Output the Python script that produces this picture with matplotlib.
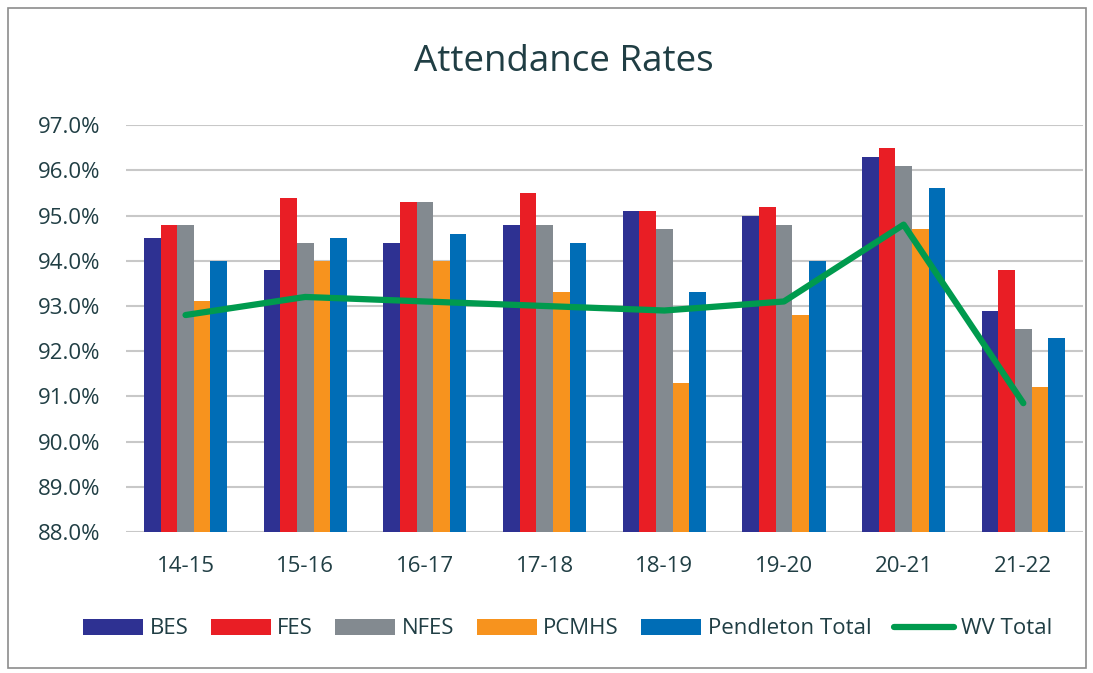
import numpy as np
import matplotlib.pyplot as plt
from matplotlib.patches import Rectangle
from matplotlib.ticker import FuncFormatter

years = ["14-15", "15-16", "16-17", "17-18", "18-19", "19-20", "20-21", "21-22"]
bes = [94.5, 93.8, 94.4, 94.8, 95.1, 95.0, 96.3, 92.9]
fes = [94.8, 95.4, 95.3, 95.5, 95.1, 95.2, 96.5, 93.8]
nfes = [94.8, 94.4, 95.3, 94.8, 94.7, 94.8, 96.1, 92.5]
pcmhs = [93.1, 94.0, 94.0, 93.3, 91.3, 92.8, 94.7, 91.2]
pendleton = [94.0, 94.5, 94.6, 94.4, 93.3, 94.0, 95.6, 92.3]
wv_total = [92.8, 93.2, 93.1, 93.0, 92.9, 93.1, 94.8, 90.85]

series = [("BES", bes, "#2E3192"), ("FES", fes, "#E91E25"),
          ("NFES", nfes, "#838A90"), ("PCMHS", pcmhs, "#F7931E"),
          ("Pendleton Total", pendleton, "#006DB6")]

txt = "#203E44"
plt.rcParams['font.family'] = ['Open Sans', 'DejaVu Sans']

fig = plt.figure(figsize=(10.93, 6.73), dpi=100)
ax = fig.add_axes([0.115, 0.2095, 0.876, 0.6045])

x = np.arange(len(years))
w = 0.139
base = 88.0
handles = []
for i, (name, vals, col) in enumerate(series):
    b = ax.bar(x + (i - 2) * w, np.array(vals) - base, w, bottom=base,
               color=col, label=name, zorder=2)
    handles.append(b)
ln, = ax.plot(x, wv_total, color="#009A4E", lw=4.5, solid_capstyle="round",
              label="WV Total", zorder=3)
handles.append(ln)

ax.set_ylim(88, 97)
ax.set_xlim(-0.5, len(years) - 0.5)
ax.set_yticks(np.arange(88, 97.1, 1))
ax.yaxis.set_major_formatter(FuncFormatter(lambda v, p: f"{v:.1f}%"))
ax.set_xticks(x)
ax.set_xticklabels(years)
ax.tick_params(length=0, labelsize=16, colors=txt)
ax.tick_params(axis='y', pad=18)
ax.tick_params(axis='x', pad=17)
ax.grid(axis='y', color="#C8C8C8", lw=1.5, zorder=0)
ax.set_axisbelow(True)
for s in ax.spines.values():
    s.set_visible(False)

fig.text(0.516, 0.908, "Attendance Rates", ha="center", va="center",
         fontsize=26.5, color=txt)

leg = fig.legend(handles=handles, loc="center", bbox_to_anchor=(0.519, 0.0654),
                 ncol=6, frameon=False, fontsize=16, handlelength=2.7,
                 handleheight=0.72, columnspacing=1.0, handletextpad=0.3)
for t in leg.get_texts():
    t.set_color(txt)

fig.patches.append(Rectangle((0.007, 0.008), 0.987, 0.98, transform=fig.transFigure,
                             fill=False, edgecolor="#8C8C8C", lw=1.2))

fig.savefig("out.png", dpi=100)
